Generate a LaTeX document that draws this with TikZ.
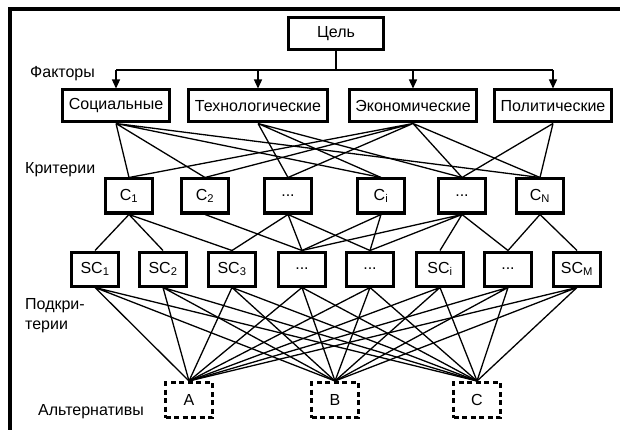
\documentclass[tikz,border=0pt]{standalone}
\usepackage{fontspec}
\setmainfont{Liberation Sans}
\usetikzlibrary{arrows.meta}

\begin{document}
\begin{tikzpicture}[x=1pt,y=-1pt,
  box/.style={draw,line width=3pt,minimum height=32pt,inner xsep=6pt,
    font=\fontsize{16}{19}\selectfont},
  cbox/.style={box,minimum width=47pt,minimum height=34pt,inner xsep=2pt},
  altbox/.style={cbox,dash pattern=on 5pt off 3.5pt,minimum height=35pt},
  lbl/.style={font=\fontsize{16}{20}\selectfont,align=left,inner sep=0pt},
  link/.style={line width=1.3pt}]
  \useasboundingbox (0,0) rectangle (620,430);
  \draw[line width=4pt] (9.5,430) -- (9.5,9.5) -- (620,9.5);

  % goal and factors
  \node[box,minimum width=95pt] (goal) at (336,34) {Цель};
  \node[box] (soc) at (116,106) {Социальные};
  \node[box] (tech) at (258,106) {Технологические};
  \node[box] (econ) at (413,106) {Экономические};
  \node[box] (pol) at (553,106) {Политические};
  \coordinate (bus) at (336,70);
  \draw[link] (goal.south) -- (bus);
  \draw[link] (soc.north |- bus) -- (pol.north |- bus);
  \draw[link,-{Triangle[length=9pt,width=8pt]}] (soc.north |- bus) -- (soc.north);
  \draw[link,-{Triangle[length=9pt,width=8pt]}] (tech.north |- bus) -- (tech.north);
  \draw[link,-{Triangle[length=9pt,width=8pt]}] (econ.north |- bus) -- (econ.north);
  \draw[link,-{Triangle[length=9pt,width=8pt]}] (pol.north |- bus) -- (pol.north);

  % criteria
  \node[cbox] (c1) at (129,196) {C\textsubscript{1}};
  \node[cbox] (c2) at (205,196) {C\textsubscript{2}};
  \node[cbox] (c3) at (288,196) {...};
  \node[cbox] (ci) at (381,196) {C\textsubscript{i}};
  \node[cbox] (c5) at (462,196) {...};
  \node[cbox] (cn) at (540,196) {C\textsubscript{N}};
  \draw[link] (soc.south) -- (c1.north) (soc.south) -- (c2.north)
    (soc.south) -- (ci.north) (soc.south) -- (cn.north);
  \draw[link] (tech.south) -- (c3.north) (tech.south) -- (ci.north)
    (tech.south) -- (c5.north);
  \draw[link] (econ.south) -- (c1.north) (econ.south) -- (c2.north)
    (econ.south) -- (c3.north) (econ.south) -- (c5.north)
    (econ.south) -- (cn.north);
  \draw[link] (pol.south) -- (c5.north) (pol.south) -- (cn.north);

  % subcriteria
  \node[cbox] (s1) at (95,269) {SC\textsubscript{1}};
  \node[cbox] (s2) at (163,269) {SC\textsubscript{2}};
  \node[cbox] (s3) at (232,269) {SC\textsubscript{3}};
  \node[cbox] (s4) at (302,269) {...};
  \node[cbox] (s5) at (370,269) {...};
  \node[cbox] (si) at (440,269) {SC\textsubscript{i}};
  \node[cbox] (s7) at (508,269) {...};
  \node[cbox] (sm) at (577,269) {SC\textsubscript{M}};
  \draw[link] (c1.south) -- (s1.north) (c1.south) -- (s2.north)
    (c1.south) -- (s3.north);
  \draw[link] (c2.south) -- (s4.north);
  \draw[link] (c3.south) -- (s3.north) (c3.south) -- (s4.north)
    (c3.south) -- (s5.north);
  \draw[link] (ci.south) -- (s4.north) (ci.south) -- (s5.north);
  \draw[link] (c5.south) -- (s4.north) (c5.south) -- (s5.north)
    (c5.south) -- (si.north) (c5.south) -- (s7.north);
  \draw[link] (cn.south) -- (s7.north) (cn.south) -- (sm.north);

  % alternatives
  \node[altbox] (a) at (189,400) {A};
  \node[altbox] (b) at (335,400) {B};
  \node[altbox] (c) at (477,400) {C};
  \draw[link] (s1.south) -- (a.north) (s1.south) -- (b.north) (s1.south) -- (c.north);
  \draw[link] (s2.south) -- (a.north) (s2.south) -- (b.north) (s2.south) -- (c.north);
  \draw[link] (s3.south) -- (a.north) (s3.south) -- (b.north) (s3.south) -- (c.north);
  \draw[link] (s4.south) -- (a.north) (s4.south) -- (b.north) (s4.south) -- (c.north);
  \draw[link] (s5.south) -- (a.north) (s5.south) -- (b.north) (s5.south) -- (c.north);
  \draw[link] (si.south) -- (a.north) (si.south) -- (b.north) (si.south) -- (c.north);
  \draw[link] (s7.south) -- (a.north) (s7.south) -- (b.north) (s7.south) -- (c.north);
  \draw[link] (sm.south) -- (a.north) (sm.south) -- (b.north) (sm.south) -- (c.north);

  % level labels
  \node[lbl,anchor=west] (lfac) at (30,74) {Факторы};
  \node[lbl,anchor=west] (lcrit) at (25,170) {Критерии};
  \node[lbl,anchor=north west] (lsub) at (25,298) {Подкри-\\терии};
  \node[lbl,anchor=west] (lalt) at (38,412) {Альтернативы};
\end{tikzpicture}
\end{document}
